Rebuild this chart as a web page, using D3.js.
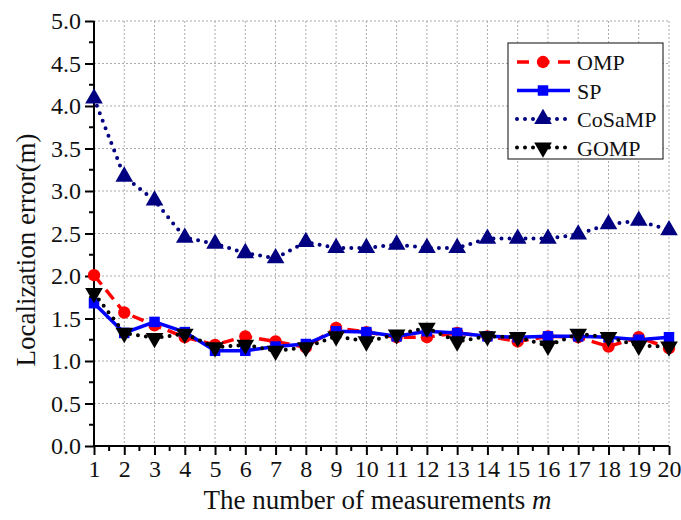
<!DOCTYPE html>
<html lang="en">
<head>
    <meta charset="UTF-8">
    <script src="https://cdn.jsdelivr.net/npm/d3@7"></script>
    <title>Localization error</title>
    <style>
        body { margin: 0; background: white; }
        text { font-family: "Liberation Serif", "Times New Roman", serif; fill: #111; }
    </style>
</head>
<body>
    <div id="chart"></div>
    <script>
        // ---------------- data ----------------
        const measurements = d3.range(1, 21);
        const yTicks = [0.0, 0.5, 1.0, 1.5, 2.0, 2.5, 3.0, 3.5, 4.0, 4.5, 5.0];
        const seriesNames = ["OMP", "SP", "CoSaMP", "GOMP"];

        const ompValues    = [2.01, 1.57, 1.42, 1.28, 1.19, 1.29, 1.23, 1.16, 1.39, 1.34, 1.28, 1.28, 1.33, 1.29, 1.23, 1.29, 1.28, 1.17, 1.28, 1.15];
        const spValues     = [1.68, 1.33, 1.46, 1.34, 1.12, 1.12, 1.17, 1.20, 1.35, 1.34, 1.29, 1.35, 1.33, 1.29, 1.28, 1.29, 1.29, 1.28, 1.25, 1.28];
        const cosampValues = [4.09, 3.17, 2.89, 2.45, 2.38, 2.27, 2.21, 2.40, 2.33, 2.33, 2.37, 2.33, 2.33, 2.44, 2.44, 2.44, 2.49, 2.61, 2.65, 2.54];
        const gompValues   = [1.80, 1.33, 1.27, 1.32, 1.16, 1.19, 1.12, 1.16, 1.29, 1.23, 1.31, 1.39, 1.23, 1.29, 1.28, 1.18, 1.32, 1.28, 1.18, 1.17];

        // ---------------- layout ----------------
        const width = 681, height = 520;
        const margin = {top: 21, right: 12, bottom: 74, left: 94};
        const plotW = width - margin.left - margin.right;
        const plotH = height - margin.top - margin.bottom;

        const svg = d3.select("#chart").append("svg")
            .attr("width", width)
            .attr("height", height);

        const g = svg.append("g")
            .attr("transform", `translate(${margin.left},${margin.top})`);

        const x = d3.scaleLinear().domain([1, 20]).range([0, plotW]);
        const y = d3.scaleLinear().domain([0, 5]).range([plotH, 0]);

        // ---------------- grid ----------------
        g.append("g").selectAll("line")
            .data(measurements.slice(1))
            .join("line")
            .attr("x1", d => x(d)).attr("x2", d => x(d))
            .attr("y1", 0).attr("y2", plotH)
            .attr("stroke", "#aaa").attr("stroke-width", 1)
            .attr("stroke-dasharray", "2,2");

        g.append("g").selectAll("line")
            .data(yTicks.slice(1))
            .join("line")
            .attr("x1", 0).attr("x2", plotW)
            .attr("y1", d => y(d)).attr("y2", d => y(d))
            .attr("stroke", "#aaa").attr("stroke-width", 1)
            .attr("stroke-dasharray", "2,2");

        // ---------------- axes ----------------
        const xAxis = g.append("g")
            .attr("transform", `translate(0,${plotH})`)
            .call(d3.axisBottom(x).tickValues(measurements).tickFormat(d3.format("d")).tickSize(9).tickPadding(5));
        // minor ticks on x
        xAxis.selectAll(".minor")
            .data(d3.range(1.5, 20, 1))
            .join("line")
            .attr("class", "minor")
            .attr("x1", d => x(d)).attr("x2", d => x(d))
            .attr("y1", 0).attr("y2", 5)
            .attr("stroke", "#000").attr("stroke-width", 2);

        const yAxis = g.append("g")
            .call(d3.axisLeft(y).tickValues(yTicks).tickFormat(d3.format(".1f")).tickSize(9).tickPadding(4));
        yAxis.selectAll(".minor")
            .data(d3.range(0.25, 5, 0.5))
            .join("line")
            .attr("class", "minor")
            .attr("x1", 0).attr("x2", -5)
            .attr("y1", d => y(d)).attr("y2", d => y(d))
            .attr("stroke", "#000").attr("stroke-width", 2);

        [xAxis, yAxis].forEach(a => {
            a.select(".domain").attr("stroke", "#000").attr("stroke-width", 2);
            a.selectAll(".tick line").attr("stroke", "#000").attr("stroke-width", 2);
            a.selectAll(".tick text").attr("font-size", 24).attr("font-family", "Liberation Serif").attr("fill", "#111");
        });
        xAxis.select(".domain").attr("d", `M0,0H${plotW}`);
        yAxis.select(".domain").attr("d", `M0,${plotH}V0`);

        // ---------------- labels ----------------
        const xLabel = svg.append("text")
            .attr("x", margin.left + plotW / 2 - 4)
            .attr("y", 509)
            .attr("text-anchor", "middle")
            .attr("font-size", 27);
        xLabel.append("tspan").text("The number of measurements ");
        xLabel.append("tspan").attr("font-style", "italic").text("m");

        svg.append("text")
            .attr("transform", "translate(35,250) rotate(-90)")
            .attr("text-anchor", "middle")
            .attr("font-size", 27)
            .text("Localization error(m)");

        // ---------------- series ----------------
        const styles = {
            OMP:    {values: ompValues,    color: "#ff0000", width: 3.5, dash: "12,7", cap: "butt",  marker: "circle"},
            SP:     {values: spValues,     color: "#0000ff", width: 3.5, dash: null,   cap: "butt",  marker: "square"},
            CoSaMP: {values: cosampValues, color: "#000080", width: 4,   dash: "0,8",  cap: "round", marker: "triangle"},
            GOMP:   {values: gompValues,   color: "#000000", width: 4,   dash: "0,8",  cap: "round", marker: "triangleDown"}
        };

        const markerPath = (type, size) => {
            if (type === "circle") return d3.symbol(d3.symbolCircle, size)();
            if (type === "square") return d3.symbol(d3.symbolSquare, size)();
            return d3.symbol(d3.symbolTriangle, size)();
        };
        const markerSize = {circle: 120, square: 110, triangle: 135, triangleDown: 135};

        const line = d3.line().x((d, i) => x(measurements[i])).y(d => y(d));

        seriesNames.forEach(name => {
            const s = styles[name];
            g.append("path")
                .datum(s.values)
                .attr("d", line)
                .attr("fill", "none")
                .attr("stroke", s.color)
                .attr("stroke-width", s.width)
                .attr("stroke-linecap", s.cap)
                .attr("stroke-dasharray", s.dash);

            g.append("g").selectAll("path")
                .data(s.values)
                .join("path")
                .attr("d", markerPath(s.marker, markerSize[s.marker]))
                .attr("transform", (d, i) => `translate(${x(measurements[i])},${y(d)})` + (s.marker === "triangleDown" ? " rotate(180)" : ""))
                .attr("fill", s.color);
        });

        // ---------------- legend ----------------
        const legend = svg.append("g").attr("transform", "translate(508,43)");
        legend.append("rect")
            .attr("width", 155).attr("height", 116)
            .attr("fill", "white")
            .attr("stroke", "#333").attr("stroke-width", 1.2);

        seriesNames.forEach((name, i) => {
            const s = styles[name];
            const row = legend.append("g").attr("transform", `translate(0,${19 + i * 28.5})`);
            row.append("line")
                .attr("x1", 9).attr("x2", 62)
                .attr("stroke", s.color)
                .attr("stroke-width", s.width)
                .attr("stroke-linecap", s.cap)
                .attr("stroke-dasharray", name === "OMP" ? "12,8.5" : s.dash);
            row.append("path")
                .attr("d", markerPath(s.marker, markerSize[s.marker]))
                .attr("transform", "translate(35,0)" + (s.marker === "triangleDown" ? " rotate(180)" : ""))
                .attr("fill", s.color);
            row.append("text")
                .attr("x", 69).attr("y", 8)
                .attr("font-size", 22)
                .text(name);
        });
    </script>
</body>
</html>
